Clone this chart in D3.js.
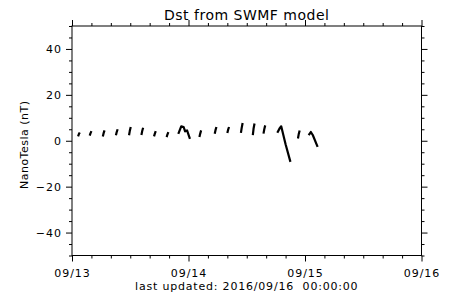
<!DOCTYPE html>
<html>
<head>
<meta charset="utf-8">
<script src="https://cdn.jsdelivr.net/npm/d3@7"></script>
<style>
  body { margin: 0; background: #fff; }
  svg { display: block; }
  text { font-family: 'DejaVu Sans', sans-serif; fill: #000; }
</style>
</head>
<body>
<svg id="chart" width="450" height="300"></svg>
<script>
// MARK: Data (hours since 09/13 00:00, Dst in nT). null splits the segments.

const hours = [
  1.25, 1.4, 1.6, null,
  3.65, 3.8, 4.0, null,
  6.35, 6.5, 6.7, null,
  9.05, 9.2, 9.4, null,
  11.75, 11.9, 12.1, null,
  14.3, 14.45, 14.65, null,
  16.9, 17.05, 17.25, null,
  19.5, 19.65, 19.85, null,
  21.9, 22.5, 23.0, 23.3, 23.7, 24.3, null,
  26.25, 26.4, 26.6, null,
  29.4, 29.55, 29.75, null,
  32.0, 32.15, 32.35, null,
  34.8, 34.95, 35.15, null,
  37.25, 37.4, 37.6, null,
  39.45, 39.6, 39.8, null,
  42.3, 42.8, 43.1, 44.0, 45.0, null,
  46.55, 46.7, 46.9, null,
  48.75, 49.2, 49.6, 50.6
]
const dst = [
  1.9, 2.8, 3.6, null,
  2.2, 3.2, 4.2, null,
  1.9, 3.2, 4.5, null,
  2.4, 3.7, 5.0, null,
  2.4, 4.2, 6.0, null,
  2.5, 4.1, 5.7, null,
  1.9, 3.0, 4.2, null,
  1.6, 2.7, 3.8, null,
  3.0, 6.3, 6.0, 4.1, 4.5, 0.8, null,
  1.6, 3.0, 4.5, null,
  3.1, 4.5, 6.0, null,
  3.4, 4.7, 6.0, null,
  3.4, 5.5, 7.7, null,
  2.4, 5.2, 7.5, null,
  3.1, 4.9, 6.7, null,
  3.5, 5.5, 6.3, -1.5, -9.2, null,
  1.0, 2.8, 4.5, null,
  2.4, 3.8, 2.5, -2.7
]

const dayLabels  = ['09/13', '09/14', '09/15', '09/16']
const yMajor     = [-40, -20, 0, 20, 40]
const titleText  = 'Dst from SWMF model'
const yTitle     = 'NanoTesla (nT)'
const footerText = 'last updated: 2016/09/16  00:00:00'

// MARK: Layout.

const LEFT = 72, RIGHT = 421.5, TOP = 26, BOTTOM = 255.5
const MAJOR = 6, MINOR = 3

const svg = d3.select('#chart')

const x = d3.scaleLinear().domain([0, 72]).range([LEFT, RIGHT])
const y = d3.scaleLinear().domain([-50, 50]).range([BOTTOM, TOP])

const xMinor = d3.range(0, 73, 4).filter((h) => h % 24 !== 0)
const xMajor = dayLabels.map((d, i) => i * 24)
const yMinor = d3.range(-50, 51, 5).filter((v) => v % 20 !== 0)

const fmtY = (v) => (v < 0 ? '\u2212' + Math.abs(v) : String(v))

// Axes: ticks outward on all four sides.
svg.append('g').attr('transform', `translate(0,${BOTTOM})`)
  .call(d3.axisBottom(x).tickValues(xMajor).tickSize(MAJOR).tickFormat((d, i) => dayLabels[i]))
  .call((g) => g.selectAll('text').attr('dy', null).attr('y', 21))
svg.append('g').attr('transform', `translate(0,${BOTTOM})`)
  .call(d3.axisBottom(x).tickValues(xMinor).tickSize(MINOR).tickFormat(''))
svg.append('g').attr('transform', `translate(0,${TOP})`)
  .call(d3.axisTop(x).tickValues(xMajor).tickSize(MAJOR).tickFormat(''))
svg.append('g').attr('transform', `translate(0,${TOP})`)
  .call(d3.axisTop(x).tickValues(xMinor).tickSize(MINOR).tickFormat(''))

svg.append('g').attr('transform', `translate(${LEFT},0)`)
  .call(d3.axisLeft(y).tickValues(yMajor).tickSize(MAJOR).tickFormat(fmtY))
  .call((g) => g.selectAll('text').attr('x', -10).attr('dy', '0.36em'))
svg.append('g').attr('transform', `translate(${LEFT},0)`)
  .call(d3.axisLeft(y).tickValues(yMinor).tickSize(MINOR).tickFormat(''))
svg.append('g').attr('transform', `translate(${RIGHT},0)`)
  .call(d3.axisRight(y).tickValues(yMajor).tickSize(MAJOR).tickFormat(''))
svg.append('g').attr('transform', `translate(${RIGHT},0)`)
  .call(d3.axisRight(y).tickValues(yMinor).tickSize(MINOR).tickFormat(''))

svg.selectAll('.domain').remove()
svg.selectAll('.tick line').attr('stroke', '#000')
svg.selectAll('.tick text')
  .attr('font-family', 'DejaVu Sans, sans-serif')
  .attr('font-size', 11)
  .attr('letter-spacing', 1)
  .attr('fill', '#000')

svg.append('rect')
  .attr('x', LEFT).attr('y', TOP)
  .attr('width', RIGHT - LEFT).attr('height', BOTTOM - TOP)
  .attr('fill', 'none').attr('stroke', '#000').attr('stroke-width', 1)

// MARK: Data line.

const pts = hours.map((h, i) => [h, dst[i]])
const line = d3.line()
  .defined((d) => d[0] !== null && d[1] !== null)
  .x((d) => x(d[0]))
  .y((d) => y(d[1]))

svg.append('path')
  .datum(pts)
  .attr('d', line)
  .attr('fill', 'none')
  .attr('stroke', '#000')
  .attr('stroke-width', 2.2)
  .attr('stroke-linejoin', 'round')

// MARK: Texts.

svg.append('text')
  .attr('x', (LEFT + RIGHT) / 2).attr('y', 20)
  .attr('text-anchor', 'middle')
  .attr('font-size', 14)
  .attr('letter-spacing', 0.5)
  .text(titleText)

svg.append('text')
  .attr('transform', `translate(28,${(TOP + BOTTOM) / 2 + 4}) rotate(-90)`)
  .attr('text-anchor', 'middle')
  .attr('font-size', 11)
  .attr('letter-spacing', 0.5)
  .text(yTitle)

svg.append('text')
  .attr('x', (LEFT + RIGHT) / 2).attr('y', 290)
  .attr('text-anchor', 'middle')
  .attr('font-size', 11)
  .attr('letter-spacing', 0.8)
  .style('white-space', 'pre')
  .text(footerText)
</script>
</body>
</html>
